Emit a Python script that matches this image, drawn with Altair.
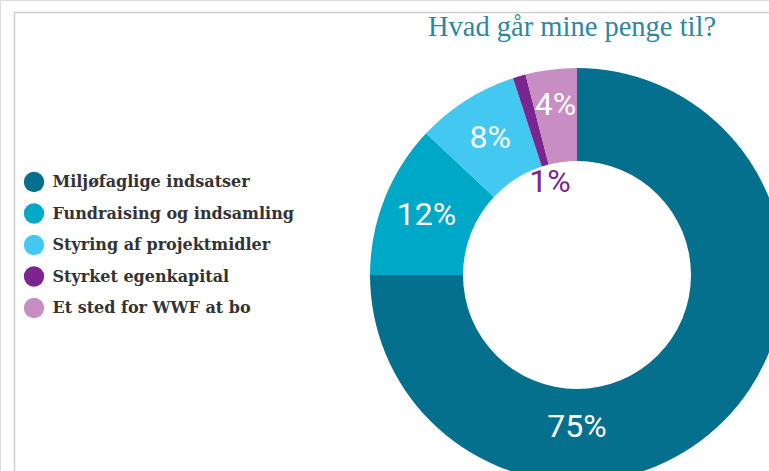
import altair as alt
import pandas as pd

categories = ["Miljøfaglige indsatser", "Fundraising og indsamling", "Styring af projektmidler",
              "Styrket egenkapital", "Et sted for WWF at bo"]
values = [75, 12, 8, 1, 4]
labels = ["75%", "12%", "8%", "1%", "4%"]
colors = ["#04708E", "#00A8C8", "#42C8F1", "#7B2590", "#C88DC3"]
title_text = "Hvad går mine penge til?"

df = pd.DataFrame({"cat": categories, "value": values, "label": labels,
                   "order": list(range(len(categories)))})

CX, CY = 577, 275

color = alt.Color("cat:N", scale=alt.Scale(domain=categories, range=colors),
                  legend=alt.Legend(title=None, orient="none", legendX=23.5, legendY=171.5,
                                    symbolType="circle", symbolSize=415, symbolStrokeWidth=0,
                                    labelFont="DejaVu Serif", labelFontWeight="bold",
                                    labelFontSize=16, labelColor="#333333", rowPadding=10.5,
                                    labelOffset=8, labelLimit=400))

base = alt.Chart(df)

arcs = base.mark_arc(outerRadius=207, innerRadius=114, stroke=None).encode(
    theta=alt.Theta("value:Q", stack=True),
    order=alt.Order("order:Q"),
    color=color,
    x=alt.value(CX), y=alt.value(CY),
)

texts = base.transform_window(
    cum="sum(value)", sort=[alt.SortField("order")], frame=[None, 0]
).transform_joinaggregate(
    total="sum(value)", maxv="max(value)"
).transform_calculate(
    mid="2 * PI * (datum.cum - datum.value / 2) / datum.total",
    ang="datum.value == datum.maxv ? PI : datum.mid",
    r="datum.value == datum.maxv ? 152 : (datum.value == 1 ? 97 : (datum.value == 4 ? 171 : 162))"
).mark_text(font="Roboto", fontWeight="normal", fontSize=32, baseline="middle", align="center").encode(
    theta=alt.Theta("ang:Q", scale=None),
    radius=alt.Radius("r:Q", scale=None),
    text="label:N",
    color=alt.condition("datum.value == 1", alt.value("#7B2590"), alt.value("white")),
    x=alt.value(CX), y=alt.value(CY),
)

title = alt.Chart(pd.DataFrame({"t": [title_text]})).mark_text(
    font="Liberation Serif", fontSize=28.5, color="#2B88A3", align="center", baseline="alphabetic"
).encode(text="t:N", x=alt.value(572), y=alt.value(36))

vline = alt.Chart(pd.DataFrame({"a": [0]})).mark_rule(color="#D0D0D0", strokeWidth=1.5).encode(
    x=alt.value(14.5), y=alt.value(12), y2=alt.value(471))
hline = alt.Chart(pd.DataFrame({"a": [0]})).mark_rule(color="#D0D0D0", strokeWidth=1.5).encode(
    x=alt.value(14), x2=alt.value(769), y=alt.value(12.5))

chart = alt.layer(vline, hline, arcs, texts, title).properties(
    width=769, height=471, padding=0, autosize=alt.AutoSizeParams(type="none")
).configure_view(stroke=None).configure(background="white")

chart.save("out.html", embed_options={"renderer": "svg", "actions": False})
